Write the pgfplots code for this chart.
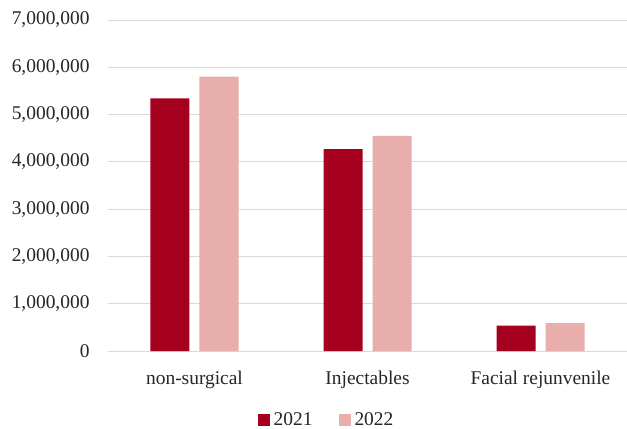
\documentclass[border=0pt]{standalone}
\usepackage{fontspec}
\setmainfont{Liberation Serif}
\usepackage{pgfplots}
\pgfplotsset{compat=1.18}
\definecolor{darkred}{HTML}{A6001F}
\definecolor{lightred}{HTML}{E8AEAC}
\definecolor{gridgray}{HTML}{D9D9D9}
\begin{document}
\begin{tikzpicture}
\begin{axis}[
  scale only axis,
  width=519bp, height=331bp,
  ybar=10bp, bar width=39bp,
  xmin=-0.5, xmax=2.5,
  ymin=0, ymax=7000000,
  ytick={0,1000000,...,7000000},
  xtick={0,1,2},
  xticklabels={non-surgical, Injectables, Facial rejunvenile},
  scaled y ticks=false,
  /pgf/number format/assume math mode=true,
  yticklabel={\pgfmathprintnumber[fixed,1000 sep={,}]{\tick}},
  axis line style={draw=none},
  major tick length=0pt,
  ymajorgrids, grid style={gridgray, line width=1bp},
  tick label style={font=\fontsize{19.5}{22}\selectfont, text=black!85},
  yticklabel style={xshift=-15bp},
  xticklabel style={yshift=-16bp},
  legend style={at={(0.5,-78bp)}, anchor=south, xshift=-40bp, yshift=-2bp, draw=none,
    font=\fontsize{19.5}{22}\selectfont, legend columns=2, text=black!85,
    /tikz/every even column/.append style={column sep=22bp},
    nodes={inner xsep=4bp}},
  legend image code/.code={\fill[#1] (0bp,-6bp) rectangle (12bp,6bp);},
]
\addplot[fill=darkred, draw=none] coordinates {(0,5340000) (1,4270000) (2,535000)};
\addplot[fill=lightred, draw=none] coordinates {(0,5800000) (1,4550000) (2,590000)};
\legend{2021,2022}
\end{axis}
\pgfresetboundingbox
\useasboundingbox (-108bp,-78bp) rectangle (519bp,351bp);
\end{tikzpicture}
\end{document}
